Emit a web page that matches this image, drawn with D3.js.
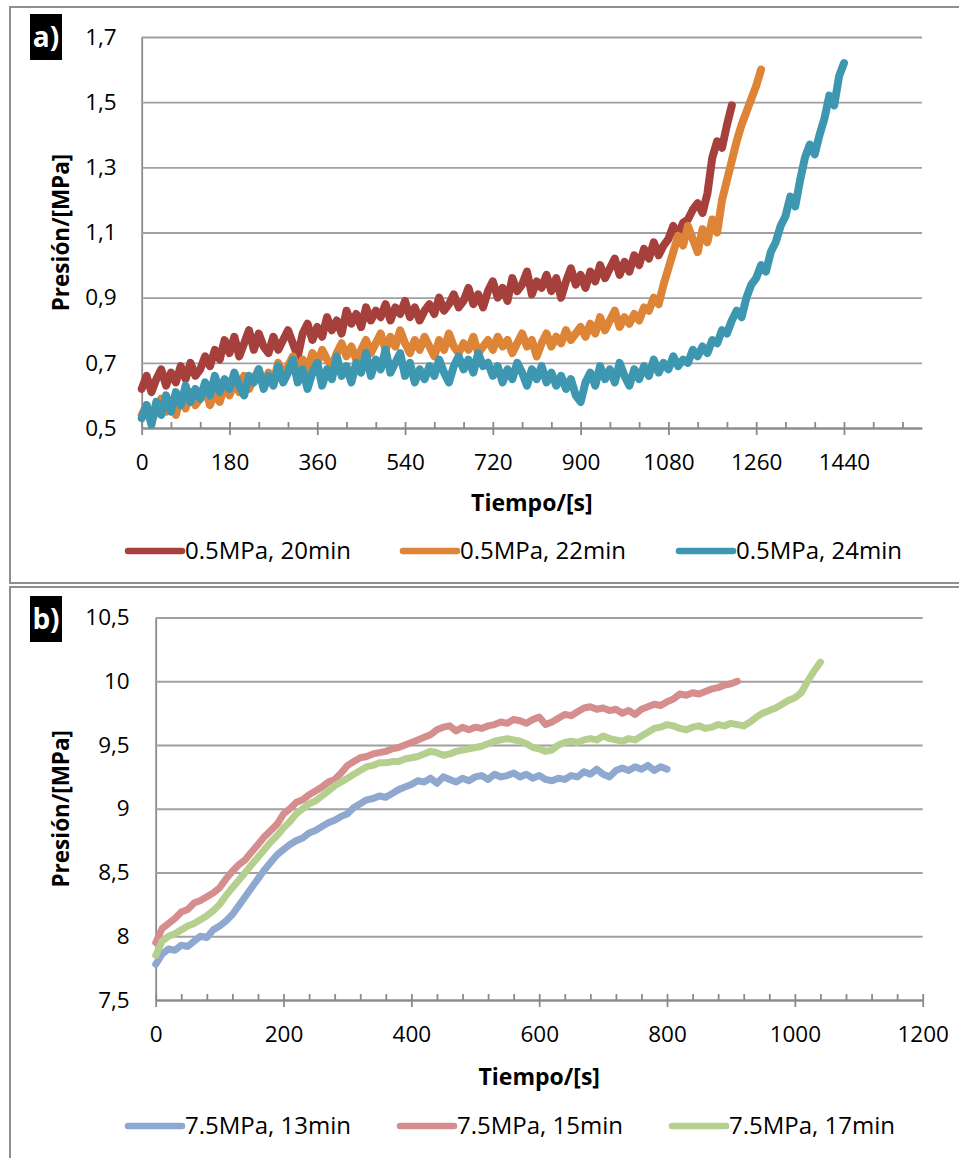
<!DOCTYPE html>
<html><head><meta charset="utf-8">
<script src="https://cdn.jsdelivr.net/npm/d3@7"></script>
<style>
body{margin:0;background:#fff;}
text{font-family:'Open Sans',sans-serif;fill:#000;}
</style>
</head><body>
<svg id="c" width="959" height="1158"></svg>
<script>
const aStep = 10;
const aNames = ["0.5MPa, 20min", "0.5MPa, 22min", "0.5MPa, 24min"];
const aRed = [
 0.62,0.66,0.61,0.65,0.68,0.63, 0.67,0.64,0.69,0.65,0.70,0.66,
 0.68,0.72,0.69,0.74,0.71,0.77, 0.73,0.78,0.72,0.76,0.80,0.74,
 0.79,0.75,0.73,0.78,0.74,0.77, 0.80,0.76,0.72,0.79,0.82,0.77,
 0.81,0.78,0.84,0.80,0.83,0.79, 0.86,0.82,0.85,0.81,0.87,0.83,
 0.86,0.84,0.88,0.83,0.87,0.85, 0.89,0.84,0.87,0.83,0.86,0.88,
 0.85,0.90,0.86,0.88,0.91,0.87, 0.89,0.93,0.88,0.91,0.87,0.92,
 0.95,0.90,0.93,0.89,0.96,0.92, 0.94,0.98,0.91,0.95,0.93,0.97,
 0.92,0.96,0.90,0.95,0.99,0.94, 0.97,0.93,0.98,0.95,1.00,0.96,
 0.99,1.02,0.97,1.01,0.98,1.03, 1.00,1.05,1.02,1.07,1.03,1.06,
 1.08,1.12,1.09,1.13,1.14,1.17, 1.19,1.16,1.22,1.33,1.38,1.36,
 1.43,1.49];
const aOrange = [
 0.54,0.57,0.52,0.56,0.59,0.55, 0.58,0.54,0.60,0.56,0.61,0.57,
 0.59,0.62,0.57,0.61,0.58,0.63, 0.60,0.64,0.61,0.66,0.62,0.65,
 0.68,0.63,0.67,0.64,0.70,0.66, 0.69,0.72,0.67,0.71,0.68,0.73,
 0.70,0.74,0.71,0.69,0.73,0.76, 0.72,0.75,0.71,0.74,0.77,0.73,
 0.76,0.79,0.74,0.78,0.75,0.80, 0.76,0.73,0.77,0.74,0.78,0.75,
 0.72,0.77,0.74,0.79,0.75,0.73, 0.76,0.74,0.78,0.73,0.75,0.77,
 0.74,0.78,0.75,0.77,0.73,0.76, 0.79,0.75,0.77,0.72,0.76,0.79,
 0.75,0.78,0.76,0.80,0.77,0.79, 0.81,0.78,0.82,0.79,0.84,0.80,
 0.83,0.86,0.81,0.84,0.82,0.85, 0.83,0.87,0.86,0.90,0.88,0.94,
 0.99,1.04,1.09,1.06,1.12,1.08, 1.04,1.11,1.07,1.14,1.10,1.20,
 1.26,1.32,1.38,1.43,1.47,1.51, 1.55,1.60];
const aTeal = [
 0.53,0.57,0.51,0.58,0.54,0.60, 0.55,0.61,0.57,0.63,0.58,0.62,
 0.59,0.64,0.60,0.66,0.61,0.65, 0.62,0.67,0.63,0.60,0.66,0.64,
 0.68,0.62,0.66,0.63,0.69,0.64, 0.67,0.71,0.64,0.68,0.62,0.67,
 0.70,0.63,0.68,0.65,0.72,0.66, 0.69,0.64,0.70,0.67,0.73,0.66,
 0.71,0.68,0.74,0.67,0.70,0.73, 0.66,0.70,0.64,0.68,0.65,0.69,
 0.66,0.71,0.67,0.64,0.69,0.72, 0.68,0.71,0.67,0.73,0.69,0.70,
 0.66,0.69,0.64,0.68,0.65,0.70, 0.67,0.63,0.68,0.65,0.69,0.64,
 0.67,0.63,0.66,0.62,0.65,0.60, 0.58,0.64,0.67,0.63,0.69,0.65,
 0.68,0.64,0.70,0.66,0.63,0.68, 0.65,0.69,0.66,0.71,0.67,0.70,
 0.68,0.72,0.69,0.71,0.70,0.74, 0.72,0.75,0.73,0.77,0.76,0.80,
 0.79,0.83,0.86,0.84,0.90,0.94, 0.96,1.00,0.98,1.04,1.07,1.12,
 1.15,1.21,1.18,1.26,1.33,1.37, 1.34,1.40,1.45,1.52,1.49,1.58,
 1.62];
const aYTicks = [0.5,0.7,0.9,1.1,1.3,1.5,1.7];
const aYLabels = ["0,5","0,7","0,9","1,1","1,3","1,5","1,7"];
const aXTicks = [0,180,360,540,720,900,1080,1260,1440];
const aXLabels = ["0","180","360","540","720","900","1080","1260","1440"];

// ---------- Panel b data (sampled every 10 s) ----------
const bStep = 10;
const bNames = ["7.5MPa, 13min", "7.5MPa, 15min", "7.5MPa, 17min"];
const bBlue = [
 7.78,7.86,7.90,7.89,7.93,7.92,7.96,8.00,7.99,8.05,
 8.08,8.12,8.17,8.24,8.31,8.38,8.45,8.52,8.58,8.64,
 8.68,8.72,8.75,8.77,8.81,8.83,8.86,8.89,8.91,8.94,
 8.96,9.01,9.04,9.07,9.08,9.10,9.09,9.12,9.15,9.17,
 9.19,9.22,9.21,9.24,9.20,9.25,9.23,9.21,9.24,9.22,
 9.25,9.26,9.23,9.27,9.25,9.26,9.28,9.25,9.27,9.24,
 9.26,9.23,9.22,9.24,9.23,9.26,9.25,9.29,9.27,9.31,
 9.27,9.25,9.30,9.32,9.30,9.33,9.31,9.34,9.30,9.33,
 9.31];
const bPink = [
 7.95,8.06,8.10,8.14,8.19,8.21,8.26,8.28,8.31,8.34,
 8.38,8.45,8.51,8.56,8.60,8.66,8.72,8.78,8.83,8.88,
 8.96,9.00,9.05,9.07,9.11,9.14,9.17,9.21,9.23,9.28,
 9.34,9.37,9.40,9.41,9.43,9.44,9.45,9.47,9.48,9.50,
 9.52,9.54,9.56,9.58,9.62,9.64,9.65,9.61,9.64,9.62,
 9.64,9.63,9.65,9.66,9.68,9.67,9.70,9.69,9.67,9.70,
 9.72,9.66,9.68,9.71,9.74,9.73,9.76,9.79,9.80,9.78,
 9.79,9.77,9.78,9.75,9.77,9.74,9.78,9.80,9.82,9.81,
 9.84,9.86,9.90,9.89,9.91,9.90,9.92,9.94,9.95,9.97,
 9.98,10.00];
const bGreen = [
 7.85,7.96,8.00,8.02,8.05,8.08,8.10,8.13,8.16,8.20,
 8.25,8.32,8.38,8.44,8.50,8.56,8.62,8.68,8.74,8.79,
 8.85,8.90,8.96,9.00,9.04,9.06,9.10,9.14,9.18,9.21,
 9.24,9.27,9.30,9.33,9.34,9.36,9.36,9.37,9.37,9.39,
 9.40,9.41,9.43,9.45,9.44,9.42,9.43,9.45,9.46,9.47,
 9.48,9.49,9.51,9.53,9.54,9.55,9.54,9.53,9.51,9.48,
 9.47,9.45,9.46,9.50,9.52,9.53,9.52,9.54,9.55,9.54,
 9.57,9.55,9.54,9.53,9.55,9.54,9.57,9.60,9.63,9.64,
 9.66,9.65,9.63,9.62,9.64,9.65,9.63,9.64,9.66,9.65,
 9.67,9.66,9.65,9.68,9.72,9.75,9.77,9.79,9.82,9.85,
 9.87,9.91,10.00,10.08,10.15];
const bYTicks = [7.5,8,8.5,9,9.5,10,10.5];
const bYLabels = ["7,5","8","8,5","9","9,5","10","10,5"];
const bXTicks = [0,200,400,600,800,1000,1200];
const bXLabels = ["0","200","400","600","800","1000","1200"];

const aColors = ["#A6403D","#DD8437","#3E97B0"];
const bColors = ["#8FA8D0","#D58E8D","#B5CF8E"];

const svg = d3.select("#c");
svg.append("rect").attr("width",959).attr("height",1158).attr("fill","#fff");

function panel(cfg){
  const g = svg.append("g");
  const x = d3.scaleLinear().domain(cfg.xDomain).range([cfg.left, cfg.right]);
  const y = d3.scaleLinear().domain(cfg.yDomain).range([cfg.bottom, cfg.top]);

  g.append("rect").attr("x",10).attr("y",cfg.boxTop).attr("width",970).attr("height",cfg.boxH)
    .attr("fill","none").attr("stroke","#8f8f8f").attr("stroke-width",2);

  // y axis with gridlines
  const ya = g.append("g").attr("transform",`translate(${cfg.left},0)`)
    .call(d3.axisLeft(y).tickValues(cfg.yTicks).tickSize(-(cfg.right-cfg.left)).tickSizeOuter(0)
      .tickPadding(cfg.yPad).tickFormat((d,i)=>cfg.yLabels[i]));
  ya.selectAll(".tick line").attr("stroke","#a0a0a0").attr("stroke-width",1.8);
  ya.select(".domain").attr("stroke","#8a8a8a").attr("stroke-width",1.8);
  ya.selectAll("text").attr("font-size",22.5).attr("font-family","'Open Sans',sans-serif").attr("fill","#000");

  // x axis: major ticks crossing
  const xa = g.append("g").attr("transform",`translate(0,${cfg.bottom})`)
    .call(d3.axisBottom(x).tickValues(cfg.xTicks).tickSizeInner(7).tickSizeOuter(0)
      .tickFormat((d,i)=>cfg.xLabels[i]));
  xa.selectAll(".tick line").attr("stroke","#8a8a8a").attr("stroke-width",1.8);
  xa.select(".domain").attr("stroke","#8a8a8a").attr("stroke-width",1.8);
  xa.selectAll("text").attr("font-size",22.5).attr("font-family","'Open Sans',sans-serif").attr("fill","#000")
    .attr("y",cfg.xLabelDy).attr("dy","0.35em");
  // inner ticks (major + minor)
  const xt = g.append("g").attr("transform",`translate(0,${cfg.bottom})`)
    .call(d3.axisTop(x).tickValues(cfg.xMinor).tickSize(6).tickFormat(""));
  xt.select(".domain").remove();
  xt.selectAll(".tick line").attr("stroke","#8a8a8a").attr("stroke-width",1.8);

  // series
  const step = cfg.step;
  const line = d3.line().x((d,i)=>x(i*step)).y(d=>y(d)).curve(d3.curveLinear);
  cfg.series.forEach((s,k)=>{
    g.append("path").attr("d",line(s)).attr("fill","none").attr("stroke",cfg.colors[k])
      .attr("stroke-width",cfg.lw).attr("stroke-linejoin","round").attr("stroke-linecap","round");
  });

  // titles
  g.append("text").attr("x",(cfg.left+cfg.right)/2).attr("y",cfg.xTitleY).attr("text-anchor","middle")
    .attr("dy","0.35em").attr("font-weight","bold").attr("font-size",23).text("Tiempo/[s]");
  g.append("text").attr("transform",`translate(61,${(cfg.top+cfg.bottom)/2}) rotate(-90)`)
    .attr("text-anchor","middle").attr("dy","0.35em").attr("font-weight","bold").attr("font-size",22.5)
    .text("Presión/[MPa]");

  // panel label
  g.append("rect").attr("x",30).attr("y",cfg.labY).attr("width",32).attr("height",46).attr("fill","#000");
  g.append("text").attr("x",46).attr("y",cfg.labY+23).attr("dy","0.35em").attr("text-anchor","middle")
    .attr("font-weight","bold").attr("font-size",28).attr("fill","#fff").style("fill","#fff").text(cfg.label);

  // legend
  cfg.names.forEach((n,k)=>{
    const lx = cfg.legX[k];
    g.append("line").attr("x1",lx).attr("x2",lx+54).attr("y1",cfg.legY).attr("y2",cfg.legY)
      .attr("stroke",cfg.colors[k]).attr("stroke-width",6.5).attr("stroke-linecap","round");
    g.append("text").attr("x",lx+57).attr("y",cfg.legY).attr("dy","0.35em").attr("font-size",24).text(n);
  });
}

panel({
  xDomain:[0,1600], yDomain:[0.5,1.7], left:141.7, right:922, top:37, bottom:428,
  boxTop:7, boxH:576, yTicks:aYTicks, yLabels:aYLabels, yPad:25,
  xTicks:aXTicks, xLabels:aXLabels, xMinor:d3.range(0,1561,60), xLabelDy:34.5,
  step:aStep, series:[aRed,aOrange,aTeal], colors:aColors, lw:8,
  xTitleY:503, label:"a)", labY:14, names:aNames, legX:[128,403,679], legY:551
});
panel({
  xDomain:[0,1200], yDomain:[7.5,10.5], left:155.7, right:922.7, top:617.5, bottom:1000,
  boxTop:587, boxH:600, yTicks:bYTicks, yLabels:bYLabels, yPad:26,
  xTicks:bXTicks, xLabels:bXLabels, xMinor:d3.range(0,1201,40), xLabelDy:34.5,
  step:bStep, series:[bBlue,bPink,bGreen], colors:bColors, lw:7,
  xTitleY:1077, label:"b)", labY:596, names:bNames, legX:[128,400,672], legY:1126
});
</script>
</body></html>
